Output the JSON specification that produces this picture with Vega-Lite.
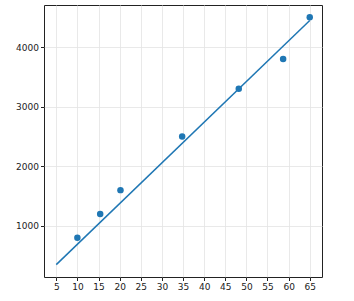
{
  "$schema": "https://vega.github.io/schema/vega-lite/v6.json",
  "width": 278,
  "height": 272,
  "autosize": {"type": "none"},
  "padding": {"left": 44, "top": 5, "right": 32, "bottom": 24},
  "background": "white",
  "config": {
    "view": {"stroke": "#222", "strokeWidth": 1},
    "axis": {
      "labelFont": "DejaVu Sans",
      "labelFontSize": 9,
      "labelColor": "#222",
      "tickColor": "#222",
      "tickSize": 3.5,
      "labelPadding": 2,
      "labelOverlap": false,
      "labelFlush": false,
      "domain": false,
      "gridColor": "#e3e3e3",
      "gridWidth": 0.8,
      "title": null,
      "format": "d"
    }
  },
  "datasets": {
    "points": [
      {"x": 10, "y": 800},
      {"x": 15.4, "y": 1200},
      {"x": 20.2, "y": 1600},
      {"x": 34.8, "y": 2500},
      {"x": 48.2, "y": 3300},
      {"x": 58.7, "y": 3800},
      {"x": 65, "y": 4500}
    ],
    "fit": [
      {"x": 5, "y": 350},
      {"x": 65, "y": 4448}
    ]
  },
  "layer": [
    {
      "data": {"name": "fit"},
      "mark": {"type": "line", "color": "#1f77b4", "strokeWidth": 1.5},
      "encoding": {
        "x": {"field": "x", "type": "quantitative", "scale": {"domain": [2.1, 67.9], "nice": false, "zero": false}, "axis": {"values": [5,10,15,20,25,30,35,40,45,50,55,60,65], "tickCount": 20}},
        "y": {"field": "y", "type": "quantitative", "scale": {"domain": [142, 4707], "nice": false, "zero": false}, "axis": {"values": [1000,2000,3000,4000], "tickCount": 10}}
      }
    },
    {
      "data": {"name": "points"},
      "mark": {"type": "circle", "color": "#1f77b4", "opacity": 1, "size": 42},
      "encoding": {
        "x": {"field": "x", "type": "quantitative"},
        "y": {"field": "y", "type": "quantitative"}
      }
    }
  ]
}
